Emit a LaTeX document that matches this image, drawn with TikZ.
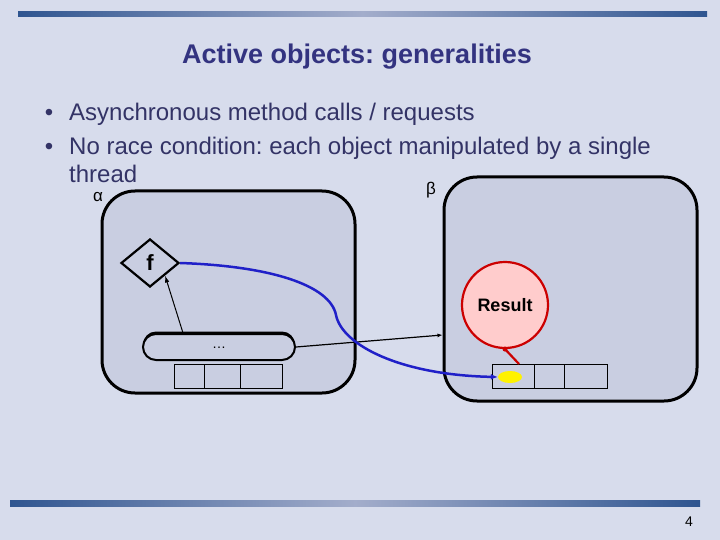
\documentclass[tikz,border=0pt]{standalone}
\usepackage{fontspec}
\setmainfont{Liberation Sans}
\usepackage{tikz}
\usetikzlibrary{positioning,shapes.geometric,arrows.meta,shadows}
\definecolor{slidebg}{HTML}{D7DCEC}
\definecolor{objfill}{HTML}{C9CEE1}
\definecolor{bardark}{HTML}{2F5590}
\definecolor{barlight}{HTML}{A3ADCB}
\definecolor{titleblue}{HTML}{333380}
\definecolor{bodytext}{HTML}{333366}
\definecolor{respink}{HTML}{FFCCCC}
\definecolor{resred}{HTML}{CC0000}
\definecolor{callblue}{HTML}{2020C8}
\frenchspacing
\tikzset{
  activeobj/.style={draw,line width=3pt,fill=objfill,rounded corners=33pt},
  cell/.style={draw,line width=0.9pt,minimum height=24pt,inner sep=0pt,outer sep=0pt},
  bullet/.style={anchor=base west,inner sep=0pt,text=bodytext,font=\fontsize{24}{28}\selectfont}
}

\begin{document}
\begin{tikzpicture}[x=1pt,y=-1pt]
\useasboundingbox[fill=slidebg] (0,0) rectangle (720,540);
% frame bars
\shade[left color=bardark,right color=bardark,middle color=barlight] (18,12) rectangle (707,17);
\shade[left color=bardark,right color=bardark,middle color=barlight] (10,500) rectangle (700,506);
% title and bullets
\node[text=titleblue,font=\fontsize{27}{30}\bfseries\selectfont] (title) at (357,57) {Active objects: generalities};
\node[bullet] (b1) at (69,121) {Asynchronous method calls / requests};
\node[bullet] (b2) at (69,155) {No race condition: each object manipulated by a single};
\node[bullet] (b3) at (69,183) {thread};
\node[bullet,anchor=base] at (49,121) {\textbullet};
\node[bullet,anchor=base] at (49,155) {\textbullet};
% the two active objects
\node[activeobj,minimum width=253pt,minimum height=202pt] (alpha) at (228.5,292) {};
\node[activeobj,minimum width=253pt,minimum height=224pt] (beta) at (570.5,289) {};
\node[font=\fontsize{17}{18}\selectfont] at (98,197) {α};
\node[font=\fontsize{17}{18}\selectfont] at (431,190) {β};
% future f and request
\node[draw,line width=2.2pt,diamond,minimum width=58pt,minimum height=48pt,inner sep=0pt,
  font=\fontsize{22}{22}\bfseries\selectfont] (f) at (150,263) {f};
\node[draw,line width=2pt,fill=objfill,rounded corners=13pt,minimum width=152pt,minimum height=26pt,
  drop shadow={shadow xshift=0pt,shadow yshift=2.5pt,fill=black,opacity=1},
  font=\fontsize{14}{14}\selectfont] (pill) at (219,347) {\raisebox{-3pt}{\dots}};
% request queues
\node[cell,minimum width=30pt] (qa1) at (189,376) {};
\node[cell,minimum width=36pt,right=0pt of qa1] (qa2) {};
\node[cell,minimum width=42pt,right=0pt of qa2] (qa3) {};
\node[cell,minimum width=42pt] (qb1) at (513,376) {};
\node[cell,minimum width=30pt,right=0pt of qb1] (qb2) {};
\node[cell,minimum width=43pt,right=0pt of qb2] (qb3) {};
\node[ellipse,fill=yellow,minimum width=24pt,minimum height=12pt,inner sep=0pt] (ell) at (510,377) {};
% result
\node[circle,draw=resred,line width=2.2pt,fill=respink,minimum size=86pt,
  font=\fontsize{18}{18}\bfseries\selectfont] (res) at (505,305) {Result};
\draw[resred,line width=2.2pt] (res.south) -- ([xshift=6pt]qb1.north);
\fill[resred] (res.south) circle (2.5pt);
% connectors
\draw[line width=1pt,-{Latex[length=7pt,width=4.5pt]}] ([xshift=-36pt]pill.north) -- (f.south east);
\draw[line width=1.2pt,-{Latex[length=5pt,width=4pt]}] (pill.east) -- (beta.west |- 0,335);
\draw[callblue,line width=2.5pt,-{Latex[length=7pt,width=6pt]}] (f.east)
  .. controls (270,266) and (330,285) .. (336,315)
  .. controls (342,345) and (400,375) .. (ell.west);
\node[font=\fontsize{14}{14}\selectfont] at (689,522) {4};
\end{tikzpicture}
\end{document}
